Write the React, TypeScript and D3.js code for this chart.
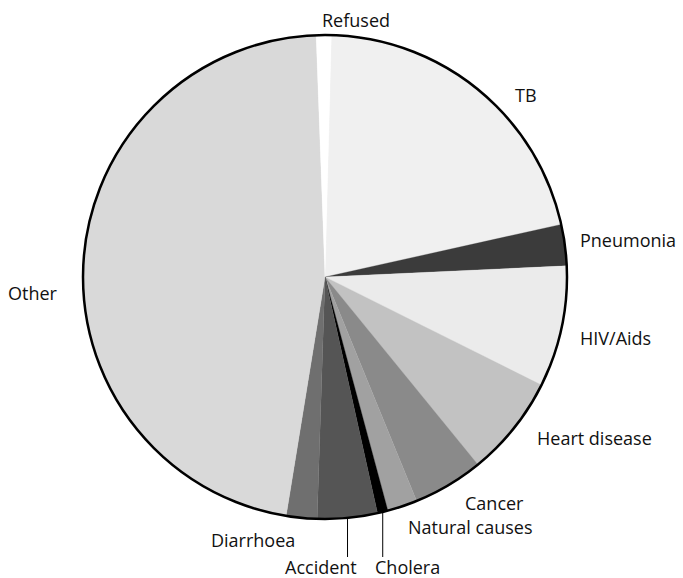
import React from "react";
import * as d3 from "d3";

const categories = ["TB", "Pneumonia", "HIV/Aids", "Heart disease", "Cancer", "Natural causes", "Cholera", "Accident", "Diarrhoea", "Other", "Refused"];
const values = [21.1, 2.75, 8.1, 6.75, 4.7, 2.0, 0.7, 4.0, 2.05, 46.85, 1.0];
const colors = ["#f0f0f0", "#3b3b3b", "#ebebeb", "#c2c2c2", "#8a8a8a", "#a1a1a1", "#000000", "#555555", "#6f6f6f", "#d9d9d9", "#ffffff"];

// label layout: [x, baseline y]
const labelPos: [number, number][] = [
  [515, 102], [580, 247], [580, 345], [537, 445], [465, 510], [408, 534],
  [375, 574], [285, 574], [211, 547], [8, 300], [322, 27],
];
const leaderLabels = ["Cholera", "Accident"];

export default function App() {
  const W = 683, H = 578;
  const cx = 325, cy = 277, R = 242;
  const start = (1.5 * Math.PI) / 180;
  const pie = d3.pie<number>().sort(null).startAngle(start).endAngle(start + 2 * Math.PI);
  const arcs = pie(values);
  const arc = d3.arc<d3.PieArcDatum<number>>().innerRadius(0).outerRadius(R);
  return (
    <div style={{ position: "absolute", left: 0, top: 0 }}>
      <svg width={W} height={H} style={{ display: "block" }}>
        <g transform={`translate(${cx},${cy})`}>
          {arcs.map((a, i) => (
            <path key={i} d={arc(a) || ""} fill={colors[i]} stroke={colors[i]} strokeWidth={0.3} />
          ))}
          <circle r={R} fill="none" stroke="#000" strokeWidth={2.5} />
          {arcs.map((a, i) => {
            if (!leaderLabels.includes(categories[i])) return null;
            const m = (a.startAngle + a.endAngle) / 2;
            const x = R * Math.sin(m);
            const y = -R * Math.cos(m);
            return <line key={"l" + i} x1={x} y1={y} x2={x} y2={557 - cy} stroke="#000" strokeWidth={1} />;
          })}
        </g>
        {categories.map((c, i) => (
          <text key={c} x={labelPos[i][0]} y={labelPos[i][1]} fontFamily="'Open Sans', sans-serif" fontSize={18} fill="#111">
            {c}
          </text>
        ))}
      </svg>
    </div>
  );
}
